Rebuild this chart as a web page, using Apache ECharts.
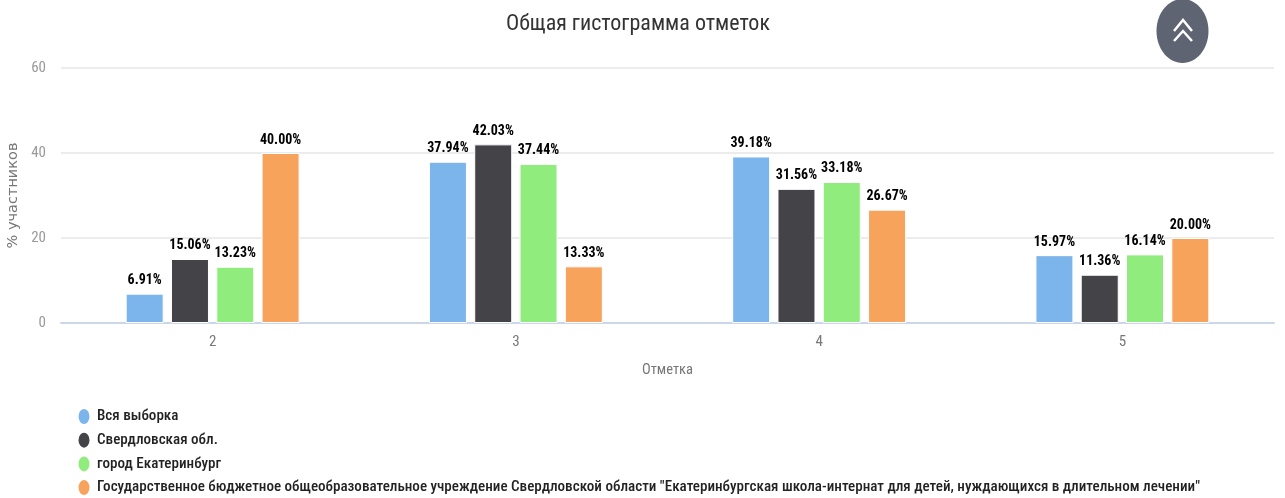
<!DOCTYPE html>
<html>
<head>
<meta charset="utf-8">
<style>
  html, body { margin: 0; padding: 0; background: #fff; }
  #chart { width: 1285px; height: 498px; }
</style>
<script src="https://cdn.jsdelivr.net/npm/echarts@6/dist/echarts.min.js"></script>
</head>
<body>
<div id="chart"></div>
<script>
const categories = ['2', '3', '4', '5']
const seriesNames = [
  'Вся выборка',
  'Свердловская обл.',
  'город Екатеринбург',
  'Государственное бюджетное общеобразовательное учреждение Свердловской области "Екатеринбургская школа-интернат для детей, нуждающихся в длительном лечении"',
]
const allSample = [6.91, 37.94, 39.18, 15.97]
const region = [15.06, 42.03, 31.56, 11.36]
const city = [13.23, 37.44, 33.18, 16.14]
const school = [40.0, 13.33, 26.67, 20.0]
const colors = ['#7cb5ec', '#434348', '#90ed7d', '#f7a35c']
const narrow = '"Roboto Condensed", sans-serif'
const dot = 'path://M50 0A50 50 0 1 1 50 100A50 50 0 1 1 50 0Z'

const makeSeries = (name, data, color) => ({
  name,
  type: 'bar',
  data,
  barWidth: 38,
  barGap: '19.2%',
  itemStyle: { color, borderColor: '#fff', borderWidth: 1 },
  label: {
    show: true,
    position: 'top',
    distance: 6,
    formatter: p => p.value.toFixed(2) + '%',
    fontFamily: narrow,
    fontSize: 14,
    fontWeight: 'bold',
    color: '#000',
  },
})

const option = {
  animation: false,
  backgroundColor: '#fff',
  color: colors,
  title: {
    text: 'Общая гистограмма отметок',
    left: 633,
    top: 8,
    textAlign: 'center',
    textStyle: { fontFamily: narrow, fontSize: 22, fontWeight: 'normal', color: '#333' },
  },
  grid: { left: 61, right: 11, top: 68, bottom: 175, outerBoundsMode: 'none' },
  xAxis: {
    type: 'category',
    data: categories,
    name: 'Отметка',
    nameLocation: 'middle',
    nameGap: 40,
    nameTextStyle: { fontFamily: narrow, fontSize: 14.5, color: '#777' },
    axisTick: { show: false },
    axisLine: { lineStyle: { color: '#ccd6eb', width: 2 } },
    axisLabel: { fontFamily: narrow, fontSize: 15, color: '#777', margin: 12 },
  },
  yAxis: {
    type: 'value',
    min: 0,
    max: 60,
    interval: 20,
    name: '% участников',
    nameLocation: 'middle',
    nameGap: 37,
    nameTextStyle: { fontFamily: '"DejaVu Sans", sans-serif', fontSize: 14.5, color: '#777' },
    splitLine: { lineStyle: { color: '#e6e6e6', width: 1.5 } },
    axisLabel: { fontFamily: narrow, fontSize: 15, color: '#999', margin: 15 },
  },
  legend: {
    orient: 'vertical',
    left: 76.5,
    top: 407,
    height: 120,
    width: 1200,
    padding: 0,
    icon: dot,
    symbolKeepAspect: false,
    itemWidth: 13,
    itemHeight: 17,
    itemGap: 4.7,
    textStyle: { fontFamily: narrow, fontSize: 15.1, color: '#222', fontWeight: 500, padding: [0, 0, 0, 1.5] },
    data: seriesNames,
  },
  graphic: [
    { type: 'ellipse', shape: { cx: 1182.5, cy: 31, rx: 26, ry: 32 }, style: { fill: '#5f6473' } },
    { type: 'polyline', shape: { points: [[1174, 31], [1183, 20], [1192, 31]] }, style: { stroke: '#fff', lineWidth: 2.5, fill: null } },
    { type: 'polyline', shape: { points: [[1174, 41], [1183, 31], [1192, 41]] }, style: { stroke: '#fff', lineWidth: 2.5, fill: null } },
  ],
  series: [
    makeSeries(seriesNames[0], allSample, colors[0]),
    makeSeries(seriesNames[1], region, colors[1]),
    makeSeries(seriesNames[2], city, colors[2]),
    makeSeries(seriesNames[3], school, colors[3]),
  ],
}

const chart = echarts.init(document.getElementById('chart'), null, { renderer: 'canvas' })
chart.setOption(option)
</script>
</body>
</html>
